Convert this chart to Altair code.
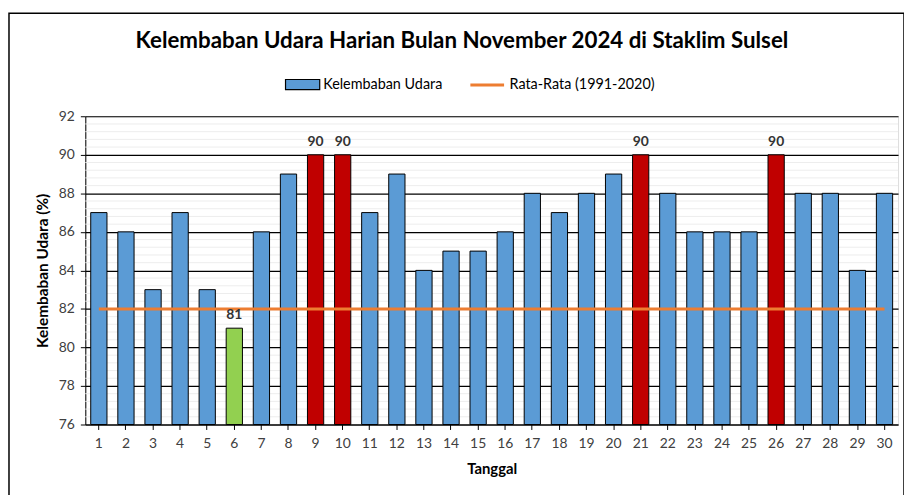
import altair as alt
import pandas as pd

tanggal = list(range(1, 31))
kelembaban = [87, 86, 83, 87, 83, 81, 86, 89, 90, 90,
              87, 89, 84, 85, 85, 86, 88, 87, 88, 89,
              90, 88, 86, 86, 86, 90, 88, 88, 84, 88]
rata_rata = 82
y_major = [76, 78, 80, 82, 84, 86, 88, 90, 92]
y_minor = [76.4, 76.8, 77.2, 77.6, 78.4, 78.8, 79.2, 79.6,
           80.4, 80.8, 81.2, 81.6, 82.4, 82.8, 83.2, 83.6,
           84.4, 84.8, 85.2, 85.6, 86.4, 86.8, 87.2, 87.6,
           88.4, 88.8, 89.2, 89.6, 90.4, 90.8, 91.2, 91.6]

SERI_BAR = "Kelembaban Udara"
SERI_LINE = "Rata-Rata (1991-2020)"
maxv = max(kelembaban)
minv = min(kelembaban)

def kategori(v):
    if v == maxv:
        return "Maks"
    if v == minv:
        return "Min"
    return SERI_BAR

df = pd.DataFrame({
    "tanggal": tanggal,
    "kelembaban": kelembaban,
    "kategori": [kategori(v) for v in kelembaban],
    "rata": [rata_rata] * len(tanggal),
    "seri_line": [SERI_LINE] * len(tanggal),
})
df_minor = pd.DataFrame({"kelembaban": y_minor})

FONT = "Lato"

x_enc = alt.X(
    "tanggal:O",
    sort=tanggal,
    scale=alt.Scale(paddingInner=0.4, paddingOuter=0.2),
    axis=alt.Axis(
        title="Tanggal", labelAngle=0, grid=False, domainColor="#000000",
        tickColor="#000000", tickSize=5, labelPadding=7, labelFontSize=14,
        labelColor="#404040", titleFontSize=15, titleFontWeight="bold",
        titlePadding=11, titleColor="#000000", labelFont=FONT, titleFont=FONT,
    ),
)

y_scale = alt.Scale(domain=[76, 92], nice=False, zero=False)
y_axis = alt.Axis(
    title="Kelembaban Udara (%)", values=y_major,
    labelOverlap=False, labelFontSize=14, labelColor="#404040",
    labelPadding=6, tickSize=5, tickColor="#000000",
    grid=True, gridColor="#000000", gridWidth=1.2,
    domainColor="#000000", titleFontSize=15.5, titleFontWeight="bold",
    titlePadding=8, titleColor="#000000", labelFont=FONT, titleFont=FONT,
)

frame = alt.Chart(pd.DataFrame({"a": [0]})).mark_rect(
    fill=None, stroke="#000000", strokeWidth=1.5
).encode(
    x=alt.value(-77), x2=alt.value(826), y=alt.value(-104), y2=alt.value(420)
)

minor = alt.Chart(df_minor).mark_rule(color="#EDEDED", strokeWidth=1).encode(
    y=alt.Y("kelembaban:Q", scale=y_scale, axis=y_axis),
)

bars = alt.Chart(df).mark_bar(stroke="#000000", strokeWidth=1).encode(
    x=x_enc,
    y=alt.Y("kelembaban:Q", scale=y_scale, axis=y_axis),
    y2=alt.datum(76),
    fill=alt.Fill(
        "kategori:N",
        scale=alt.Scale(domain=[SERI_BAR, "Maks", "Min"],
                        range=["#5B9BD5", "#C00000", "#92D050"]),
        legend=alt.Legend(
            title=None, values=[SERI_BAR], orient="none",
            legendX=201, legendY=-44.5,
            symbolType="M-1,-0.44H2V0.44H-1Z", symbolSize=529,
            symbolStrokeColor="#000000", symbolStrokeWidth=1.2,
            labelOffset=14, labelFontSize=14.5, labelFont=FONT,
            labelColor="#000000", padding=0,
        ),
    ),
)

line = alt.Chart(df).mark_line(strokeWidth=3).encode(
    x=alt.X("tanggal:O", sort=tanggal),
    y=alt.Y("rata:Q", scale=y_scale, axis=y_axis),
    stroke=alt.Stroke(
        "seri_line:N",
        scale=alt.Scale(domain=[SERI_LINE], range=["#ED7D31"]),
        legend=alt.Legend(
            title=None, orient="none", legendX=387, legendY=-50,
            symbolType="stroke", symbolSize=1156, symbolStrokeWidth=3,
            labelOffset=4, labelFontSize=14.5, labelFont=FONT,
            labelColor="#000000", padding=0,
        ),
    ),
)

labels = alt.Chart(df).transform_filter(
    (alt.datum.kelembaban == maxv) | (alt.datum.kelembaban == minv)
).mark_text(
    baseline="bottom", dy=-6, fontSize=14, fontWeight="bold",
    color="#333333", font=FONT
).encode(
    x=alt.X("tanggal:O", sort=tanggal),
    y=alt.Y("kelembaban:Q", scale=y_scale, axis=y_axis),
    text=alt.Text("kelembaban:Q"),
)

chart = alt.layer(frame, minor, bars, line, labels).properties(
    width=820, height=311,
    autosize=alt.AutoSizeParams(type="none"),
    padding={"left": 78, "top": 107, "right": 6, "bottom": 80},
    title=alt.TitleParams(
        "Kelembaban Udara Harian Bulan November 2024 di Staklim Sulsel",
        anchor="middle", dx=-30, offset=-40, fontSize=22.5, fontWeight="bold",
        font=FONT, color="#000000",
    ),
).configure_view(
    stroke="#000000", strokeWidth=1.5
).configure(background="#FFFFFF")

chart.save("out.html", embed_options={"renderer": "svg", "actions": False})
